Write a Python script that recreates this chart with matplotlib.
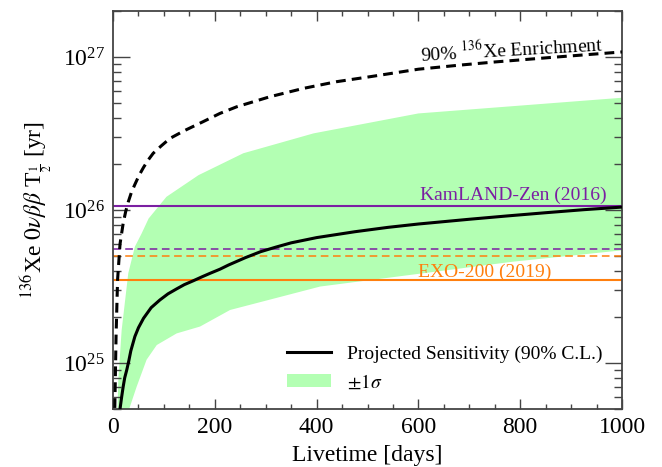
import numpy as np
import matplotlib
matplotlib.use("Agg")
import matplotlib.pyplot as plt

plt.rcParams['font.family'] = ['Liberation Serif', 'DejaVu Serif']
plt.rcParams['mathtext.fontset'] = 'stix'

# Projected sensitivity (90% C.L.)
sens_days = [12, 13.8, 17, 20, 23, 27, 31, 35, 43, 50, 60, 75, 92, 108, 125, 140, 158, 175, 191,
             210, 227, 260, 290, 320, 350, 400, 475, 540, 600, 700, 775, 850, 925, 1000]
sens_vals = [4.3e24, 5.0e24, 6.0e24, 7.0e24, 8.0e24, 9.0e24, 1.03e25, 1.2e25, 1.49e25, 1.7e25,
             1.96e25, 2.3e25, 2.58e25, 2.83e25, 3.05e25, 3.25e25, 3.45e25, 3.66e25, 3.86e25,
             4.1e25, 4.37e25, 4.88e25, 5.34e25, 5.72e25, 6.1e25, 6.6e25, 7.21e25, 7.7e25,
             8.1e25, 8.7e25, 9.15e25, 9.6e25, 1.005e26, 1.045e26]

# 90% 136Xe enrichment
enr_days = [3, 3.5, 6, 9, 13.8, 20, 25, 30, 36, 43, 51, 60, 69, 79, 95, 112, 140, 177, 210, 243,
            308, 374, 439, 505, 600, 680, 752, 870, 1000]
enr_vals = [4.0e24, 5.0e24, 1.5e25, 3.5e25, 6.0e25, 8.2e25, 9.8e25, 1.13e26, 1.3e26, 1.47e26,
            1.68e26, 1.9e26, 2.12e26, 2.35e26, 2.63e26, 2.94e26, 3.3e26, 3.78e26, 4.28e26,
            4.73e26, 5.5e26, 6.24e26, 6.9e26, 7.44e26, 8.33e26, 8.85e26, 9.3e26, 1.0e27, 1.08e27]

# +-1 sigma band
band_up_days = [8, 10.5, 17, 30, 43, 56, 70, 105, 168, 256, 394, 600, 1000]
band_up_vals = [4.0e24, 7.8e24, 1.64e25, 3.86e25, 5.76e25, 7.0e25, 8.8e25, 1.22e26, 1.69e26,
                2.35e26, 3.17e26, 4.28e26, 5.42e26]
band_lo_days = [22, 46.5, 66, 86, 125, 171, 230, 407, 785, 1000]
band_lo_vals = [4.0e24, 7.0e24, 1.05e25, 1.31e25, 1.56e25, 1.73e25, 2.22e25, 3.16e25, 4.59e25, 5.45e25]

# Existing limits and sensitivities
kamland_limit = 1.07e26
kamland_sens = 5.6e25
exo_limit = 3.5e25
exo_sens = 5.0e25

purple = '#7B1FA2'
orange = '#FF7F0E'
green = '#B3FFB3'

fig = plt.figure(figsize=(6.62, 4.67), dpi=100)
ax = fig.add_axes([0.1707, 0.1242, 0.7689, 0.8522])

band_x = np.concatenate([band_up_days, band_lo_days[::-1]])
band_y = np.concatenate([band_up_vals, band_lo_vals[::-1]])
ax.fill(band_x, band_y, color=green, lw=0, zorder=1, label=r'$\pm1\sigma$')

ax.axhline(kamland_limit, color=purple, lw=1.5, zorder=2)
ax.axhline(kamland_sens, color=purple, lw=1.1, ls=(0, (5, 3)), zorder=2)
ax.axhline(exo_sens, color=orange, lw=1.1, ls=(0, (5, 3)), zorder=2)
ax.axhline(exo_limit, color=orange, lw=1.5, zorder=2)

ax.plot(enr_days, enr_vals, color='black', lw=2.2, ls=(0, (3.2, 2.0)), zorder=3)
ax.plot(sens_days, sens_vals, color='black', lw=2.2, zorder=4,
        label='Projected Sensitivity (90% C.L.)')

ax.set_yscale('log')
ax.set_xlim(0, 1000)
ax.set_ylim(5e24, 2e27)

ax.text(963, 1.09e27, r'90% $^{136}$Xe Enrichment', fontsize=14, ha='right', va='baseline',
        rotation=3.3, rotation_mode='anchor')
ax.text(970, 1.16e26, 'KamLAND-Zen (2016)', fontsize=14, color=purple, ha='right', va='baseline')
ax.text(600, 3.66e25, 'EXO-200 (2019)', fontsize=14, color=orange, ha='left', va='baseline')

ax.set_xlabel('Livetime [days]', fontsize=17, labelpad=5)
ax.set_ylabel(r'$^{136}$Xe $0\nu\beta\beta$ T$_{\frac{1}{2}}$ [yr]', fontsize=17, labelpad=6)

ax.xaxis.set_major_locator(matplotlib.ticker.MultipleLocator(200))
ax.xaxis.set_minor_locator(matplotlib.ticker.MultipleLocator(50))
ax.tick_params(axis='both', which='both', direction='in', top=True, right=True,
               labelsize=17, color='#444444', width=1.0)
ax.tick_params(axis='x', which='major', length=7, pad=6)
ax.tick_params(axis='x', which='minor', length=3.5)
ax.tick_params(axis='y', which='major', length=12, pad=6)
ax.tick_params(axis='y', which='minor', length=6)
for s in ax.spines.values():
    s.set_color('#444444')
    s.set_linewidth(1.3)

handles, labels = ax.get_legend_handles_labels()
order = [labels.index('Projected Sensitivity (90% C.L.)'), labels.index(r'$\pm1\sigma$')]
ax.legend([handles[i] for i in order], [labels[i] for i in order], loc='lower right',
          frameon=False, fontsize=14, handlelength=2.3, borderaxespad=0.4,
          bbox_to_anchor=(0.992, 0.005))

fig.savefig('out.png', dpi=100)
